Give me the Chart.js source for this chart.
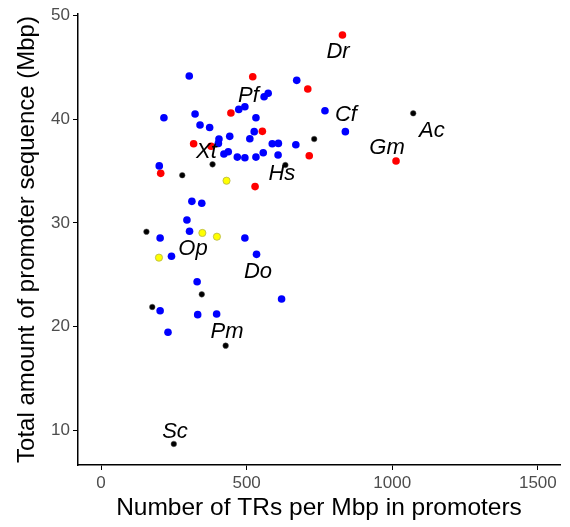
<!DOCTYPE html>
<html>
<head>
<meta charset="utf-8">
<script src="https://cdn.jsdelivr.net/npm/chart.js@4/dist/chart.umd.min.js"></script>
<style>
html,body{margin:0;padding:0;background:#fff;}
#wrap{width:570px;height:527px;position:relative;}
</style>
</head>
<body>
<div id="wrap"><canvas id="c" width="570" height="527"></canvas></div>
<script>
// Data (x = TRs per Mbp in promoters, y = total promoter sequence Mbp)
const blueX = [303,574,560,473,494,216,323,532,340,373,526,442,405,511,588,609,403,422,437,468,494,532,557,608,200,312,346,295,203,304,494,534,242,330,203,332,397,230,620,672,769,839,669];
const blueY = [44.17,42.5,42.17,40.95,41.2,40.15,40.5,40.15,39.44,39.2,38.8,38.35,38.1,38.12,37.64,37.67,37.67,36.64,36.87,36.35,36.29,36.35,36.77,36.55,35.5,32.08,31.9,30.28,28.54,29.19,28.54,26.97,26.78,24.33,21.53,21.15,21.22,19.45,22.66,43.75,40.82,38.8,37.54];
const redX = [521,446,554,318,378,205,529,829,710,715,1013];
const redY = [44.1,40.6,38.83,37.64,37.4,34.78,33.5,48.12,42.91,36.48,35.97];
const blackX = [383,279,156,346,176,428,250,1072,732,633];
const blackY = [35.65,34.6,29.15,23.11,21.89,18.16,8.68,40.57,38.09,35.58];
const yellowX = [431,348,398,199];
const yellowY = [34.07,29.03,28.67,26.65];

const labelText = ["Dr","Pf","Cf","Xt","Hs","Ac","Gm","Op","Do","Pm","Sc"];
const labelX = [814,506,841,362,621,1136,982,316,539,433,254];
const labelY = [46.47,42.23,40.4,36.83,34.7,38.86,37.21,27.47,25.25,19.47,9.83];

const xTicks = [0,500,1000,1500];
const yTicks = [10,20,30,40,50];

function pts(xs, ys){ return xs.map((x,i)=>({x:x, y:ys[i]})); }

const labelPlugin = {
  id: 'labels',
  afterDatasetsDraw(chart){
    const ctx = chart.ctx, xs = chart.scales.x, ys = chart.scales.y;
    ctx.save();
    ctx.font = 'italic 22px "Liberation Sans", Arial, sans-serif';
    ctx.fillStyle = '#000';
    ctx.textAlign = 'center';
    ctx.textBaseline = 'middle';
    labelText.forEach((t,i)=>{
      ctx.fillText(t, xs.getPixelForValue(labelX[i]), ys.getPixelForValue(labelY[i]));
    });
    ctx.restore();
  }
};

const font = {family: '"Liberation Sans", Arial, sans-serif'};

new Chart(document.getElementById('c'), {
  type: 'scatter',
  data: {
    datasets: [
      {data: pts(blueX, blueY), backgroundColor:'#0000ff', borderColor:'#0000ff', borderWidth:0, pointRadius:3.8},
      {data: pts(redX, redY), backgroundColor:'#ff0000', borderColor:'#ff0000', borderWidth:0, pointRadius:3.8},
      {data: pts(yellowX, yellowY), backgroundColor:'#ffff00', borderColor:'#b5b54a', borderWidth:0.8, pointRadius:3.6},
      {data: pts(blackX, blackY), backgroundColor:'#000000', borderColor:'#555', borderWidth:0.5, pointRadius:2.8}
    ]
  },
  options: {
    responsive: false,
    animation: false,
    devicePixelRatio: 1,
    layout: {padding: {top: 14, right: 10, left: 13, bottom: 4}},
    plugins: {legend: {display:false}, tooltip: {enabled:false}},
    scales: {
      x: {
        type: 'linear', min: -79, max: 1576,
        afterBuildTicks: s => { s.ticks = xTicks.map(v=>({value:v})); },
        afterFit: s => { s.height = 58; },
        grid: {display:true, drawOnChartArea:false, drawTicks:true, tickLength:5, color:'#000', lineWidth:1},
        border: {display:true, color:'#000', width:1.5},
        ticks: {color:'#4d4d4d', font:{...font, size:17}, padding:3, maxRotation:0, autoSkip:false, callback: v => String(v)},
        title: {display:true, text:'Number of TRs per Mbp in promoters', color:'#000', font:{...font, size:24.5}, padding:{top:0,bottom:0}}
      },
      y: {
        type: 'linear', min: 6.65, max: 50.15,
        afterBuildTicks: s => { s.ticks = yTicks.map(v=>({value:v})); },
        afterFit: s => { s.width = 65; },
        grid: {display:true, drawOnChartArea:false, drawTicks:true, tickLength:5, color:'#000', lineWidth:1},
        border: {display:true, color:'#000', width:1.5},
        ticks: {color:'#4d4d4d', font:{...font, size:17}, padding:3, autoSkip:false, callback: v => String(v)},
        title: {display:true, text:'Total amount of promoter sequence (Mbp)', color:'#000', font:{...font, size:24}, padding:{top:0,bottom:0}}
      }
    }
  },
  plugins: [labelPlugin]
});
</script>
</body>
</html>
